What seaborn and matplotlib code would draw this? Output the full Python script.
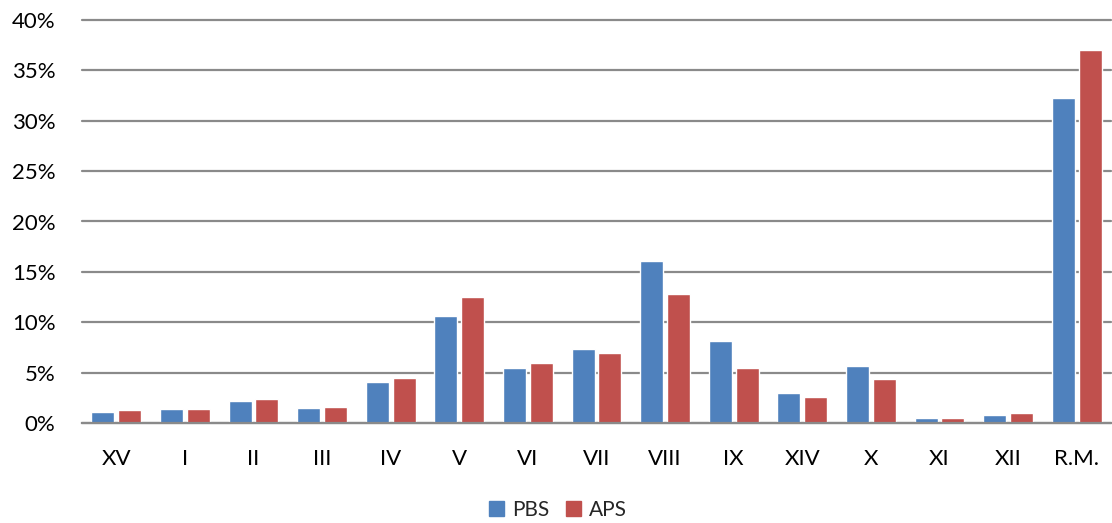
import pandas as pd
import numpy as np
import matplotlib.pyplot as plt
import seaborn as sns

# values in percent
categories = ['XV', 'I', 'II', 'III', 'IV', 'V', 'VI', 'VII', 'VIII', 'IX',
              'XIV', 'X', 'XI', 'XII', 'R.M.']
pbs = [1.05, 1.35, 2.15, 1.45, 4.05, 10.6, 5.45, 7.35, 16.1, 8.15, 3.0, 5.65, 0.5, 0.8, 32.3]
aps = [1.25, 1.4, 2.35, 1.55, 4.5, 12.5, 5.95, 6.9, 12.85, 5.45, 2.55, 4.35, 0.5, 0.95, 37.05]
series_names = ['PBS', 'APS']
y_ticks = [0, 5, 10, 15, 20, 25, 30, 35, 40]

df = pd.DataFrame({
    'Category': categories * 2,
    'Series': [series_names[0]] * len(pbs) + [series_names[1]] * len(aps),
    'Value': pbs + aps,
})

sns.set_style('white')
plt.rcParams['font.family'] = ['Lato', 'DejaVu Sans']

fig = plt.figure(figsize=(11.12, 5.23), dpi=100)
ax = fig.add_axes([82 / 1112, 1 - 423 / 523, 1029 / 1112, 403 / 523])

sns.barplot(data=df, x='Category', y='Value', hue='Series',
            palette=['#4F81BD', '#C0504D'], width=0.78, gap=0.14,
            order=categories, hue_order=series_names, ax=ax, saturation=1)

ax.set_ylim(0, 40)
ax.set_xlim(-0.5, len(categories) - 0.5)
ax.set_yticks(y_ticks)
ax.set_yticklabels([f'{t}%' for t in y_ticks])
ax.set_xlabel('')
ax.set_ylabel('')
ax.yaxis.grid(True, color='#8a8a8a', linewidth=1.6)
for line in ax.get_ygridlines():
    line.set_clip_on(False)
ax.set_axisbelow(True)
for side in ['top', 'right', 'left']:
    ax.spines[side].set_visible(False)
ax.spines['bottom'].set_color('#8a8a8a')
ax.spines['bottom'].set_linewidth(1.6)
ax.tick_params(axis='both', length=0, labelsize=16, colors='#000000')
ax.tick_params(axis='x', pad=19)
ax.tick_params(axis='y', pad=19)

ax.legend_.remove()
handles = [plt.Rectangle((0, 0), 1, 1, color=c) for c in ['#4F81BD', '#C0504D']]
fig.legend(handles, series_names, loc='center', bbox_to_anchor=(0.502, 0.025),
           ncol=2, frameon=False, fontsize=15, handlelength=0.7, handleheight=0.7,
           handletextpad=0.4, columnspacing=0.8)

fig.savefig('out.png', dpi=100)
